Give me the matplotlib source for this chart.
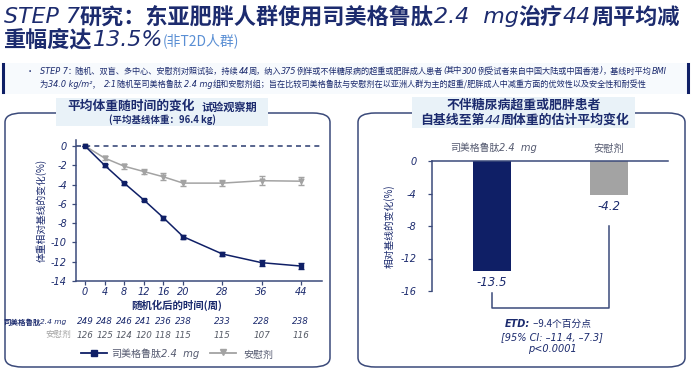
import matplotlib
matplotlib.use("Agg")
import matplotlib.pyplot as plt
import matplotlib.transforms as mtransforms
from matplotlib.patches import FancyBboxPatch, Rectangle
from matplotlib.lines import Line2D

plt.rcParams['font.family'] = ['Noto Sans CJK SC', 'DejaVu Sans']

NAVY = '#0f1f66'
TXT = '#1c2b6e'
GRAY = '#a3a3a3'
LIGHT = '#e9f2f8'

# left chart data
weeks = [0, 4, 8, 12, 16, 20, 28, 36, 44]
sema = [0, -2.0, -3.85, -5.6, -7.45, -9.4, -11.2, -12.1, -12.45]
sema_err = [0, 0.15, 0.15, 0.15, 0.2, 0.2, 0.25, 0.3, 0.3]
plac = [0, -1.25, -2.1, -2.65, -3.2, -3.85, -3.85, -3.6, -3.65]
plac_err = [0, 0.2, 0.25, 0.3, 0.35, 0.35, 0.35, 0.45, 0.4]
n_sema = [249, 248, 246, 241, 236, 238, 233, 228, 238]
n_plac = [126, 125, 124, 120, 118, 115, 115, 107, 116]
y_ticks_left = [0, -2, -4, -6, -8, -10, -12, -14]

# right chart data
groups = ['司美格鲁肽', '安慰剂']
change44 = [-13.5, -4.2]
y_ticks_right = [0, -4, -8, -12, -16]

W, H = 691, 373
fig = plt.figure(figsize=(W / 100, H / 100), dpi=100)


def fx(x):
    return x / W


def fy(y):
    return 1 - y / H


def ax_px(l, t, r, b):
    return fig.add_axes([fx(l), fy(b), (r - l) / W, (b - t) / H])


ITAL = dict(family=['DejaVu Sans', 'Noto Sans CJK SC'], style='italic')


def runs(x, y, parts, size, color, weight='bold'):
    r = fig.canvas.get_renderer()
    for s, kind in parts:
        if kind == 'i':
            t = fig.text(fx(x), fy(y), s, fontsize=size, color=color, va='center', **ITAL)
        else:
            t = fig.text(fx(x), fy(y), s, fontsize=size, color=color, va='center',
                         fontweight=weight)
        x += t.get_window_extent(r).width
    return x


# header
runs(4, 17, [('STEP 7', 'i'), ('研究：东亚肥胖人群使用司美格鲁肽', 'b'), ('2.4  mg', 'i'),
             ('治疗', 'b'), ('44', 'i'), ('周平均减', 'b')], 15.9, TXT)
runs(4, 40, [('重幅度达', 'b'), ('13.5%', 'i')], 15.9, TXT)
fig.text(fx(163), fy(41), '(非T2D人群)', fontsize=10, color='#5a8fd4', va='center')

fig.patches.append(Rectangle((fx(2), fy(94)), (687 - 2) / W, 31 / H, transform=fig.transFigure,
                             facecolor='#f7fafd', edgecolor='none', zorder=-3))
fig.add_artist(Line2D([fx(3), fx(3)], [fy(64), fy(92)], color=NAVY, lw=2.2))
fig.add_artist(Line2D([fx(688), fx(688)], [fy(64), fy(92)], color=NAVY, lw=2.2))
fig.text(fx(26), fy(71), '•', fontsize=6, color=TXT, va='center')
runs(40, 71, [('STEP 7', 'i'), ('：随机、双盲、多中心、安慰剂对照试验，持续', 'n'), ('44', 'i'),
              ('周，纳入', 'n'), ('375', 'i'), ('例伴或不伴糖尿病的超重或肥胖成人患者', 'n'),
              ('(', 'i'), ('其中', 'n'), ('300', 'i'),
              ('例受试者来自中国大陆或中国香港', 'n'), (')', 'i'), ('，基线时平均', 'n'),
              ('BMI', 'i')], 5.9, TXT, weight='normal')
runs(40, 84.5, [('为', 'n'), ('34.0 kg/m²', 'i'), ('，  ', 'n'), ('2:1', 'i'),
                ('随机至司美格鲁肽 ', 'n'), ('2.4 mg', 'i'),
                ('组和安慰剂组；旨在比较司美格鲁肽与安慰剂在以亚洲人群为主的超重/肥胖成人中减重方面的优效性以及安全性和耐受性', 'n')],
     5.9, TXT, weight='normal')

# panel frames
for (l, t, r, b) in [(5, 113, 330, 367), (358, 113, 685, 367)]:
    fig.patches.append(FancyBboxPatch((fx(l), fy(b)), (r - l) / W, (b - t) / H,
                                      boxstyle='round,pad=0,rounding_size=0.025',
                                      transform=fig.transFigure, facecolor='white',
                                      edgecolor='#3b4a7a', lw=1.1, zorder=-2))
fig.patches.append(Rectangle((fx(56), fy(126)), 212 / W, 28 / H, transform=fig.transFigure,
                             facecolor=LIGHT, edgecolor='none', zorder=-1))
fig.patches.append(Rectangle((fx(412), fy(128)), 223 / W, 31 / H, transform=fig.transFigure,
                             facecolor=LIGHT, edgecolor='none', zorder=-1))

fig.text(fx(131), fy(106), '平均体重随时间的变化', fontsize=9.2, fontweight='bold',
         color=TXT, ha='center', va='center')
fig.text(fx(229), fy(107), '试验观察期', fontsize=8, fontweight='bold',
         color=TXT, ha='center', va='center')
fig.text(fx(162), fy(119.5), '(平均基线体重：96.4 kg)', fontsize=6.8, fontweight='bold',
         color=TXT, ha='center', va='center')
fig.text(fx(524), fy(105), '不伴糖尿病超重或肥胖患者', fontsize=9.3, fontweight='bold',
         color=TXT, ha='center', va='center')
runs(420, 120, [('自基线至第', 'b'), ('44', 'i'), ('周体重的估计平均变化', 'b')], 9.3, TXT)

# left chart
ax = ax_px(76, 140.2, 322, 281)
ax.set_xlim(-1.83, 48.3)
ax.set_ylim(-14, 0.6)
ax.axhline(0, color='#3b4a7a', lw=1.2, ls=(0, (3, 2.5)), zorder=1)
ax.errorbar(weeks, plac, yerr=plac_err, color=GRAY, marker='v', ms=3.5, lw=1.1,
            capsize=2.5, elinewidth=0.9, zorder=2)
ax.errorbar(weeks, sema, yerr=sema_err, color=NAVY, marker='s', ms=3.5, lw=1.1,
            capsize=2.5, elinewidth=0.9, zorder=3)
ax.set_xticks(weeks)
ax.set_yticks(y_ticks_left)
ax.set_xticklabels([str(w) for w in weeks], fontsize=7, color=TXT, **ITAL)
ax.set_yticklabels([str(v) for v in y_ticks_left], fontsize=7, color=TXT, **ITAL)
ax.tick_params(colors='#3b4a7a', length=3, width=0.9, labelcolor=TXT)
ax.tick_params(axis='x', pad=1.5)
for s in ['top', 'right']:
    ax.spines[s].set_visible(False)
for s in ['left', 'bottom']:
    ax.spines[s].set_color('#3b4a7a')
    ax.spines[s].set_linewidth(1.1)
ax.set_ylabel('体重相对基线的变化(%)', fontsize=7, color=TXT, labelpad=3)
ax.patch.set_alpha(0)
fig.text(fx(177), fy(305), '随机化后的时间(周)', fontsize=7.5, fontweight='bold',
         color=TXT, ha='center', va='center')

tr = mtransforms.blended_transform_factory(ax.transData, fig.transFigure)
runs(3, 322, [('司美格鲁肽', 'b'), ('2.4 mg', 'i')], 5.4, TXT)
fig.text(fx(71), fy(335), '安慰剂', fontsize=6.2, color=GRAY, ha='right', va='center')
for w, a, b in zip(weeks, n_sema, n_plac):
    ax.text(w, fy(322), str(a), transform=tr, fontsize=6.3, color=TXT, ha='center',
            va='center', **ITAL)
    ax.text(w, fy(335), str(b), transform=tr, fontsize=6.3, color='#555a66', ha='center',
            va='center', **ITAL)

fig.add_artist(Line2D([fx(81), fx(107)], [fy(353), fy(353)], color=NAVY, lw=1.3))
fig.add_artist(Line2D([fx(94)], [fy(353)], color=NAVY, marker='s', ms=5, lw=0))
runs(111, 354, [('司美格鲁肽', 'n'), ('2.4  mg', 'i')], 7.2, '#555a70', weight='normal')
fig.add_artist(Line2D([fx(210), fx(236)], [fy(353), fy(353)], color=GRAY, lw=1.3))
fig.add_artist(Line2D([fx(223)], [fy(352)], color=GRAY, marker='v', ms=5, lw=0))
fig.text(fx(243), fy(355), '安慰剂', fontsize=7.2, color='#555a70', va='center')

# right chart
bx = ax_px(432, 161, 668, 291)
bx.set_xlim(-0.513, 1.504)
bx.set_ylim(-16, 0)
bx.bar([0, 1], change44, width=0.325, color=[NAVY, GRAY], zorder=2)
bx.set_yticks(y_ticks_right)
bx.set_yticklabels([str(v) for v in y_ticks_right], fontsize=7, color=TXT, **ITAL)
bx.set_xticks([])
bx.tick_params(colors='#3b4a7a', length=3, width=0.9, labelcolor=TXT, pad=8)
for s in ['right', 'bottom']:
    bx.spines[s].set_visible(False)
for s in ['left', 'top']:
    bx.spines[s].set_color('#3b4a7a')
    bx.spines[s].set_linewidth(1.1)
bx.set_ylabel('相对基线的变化(%)', fontsize=7, color=TXT, labelpad=4)
bx.patch.set_alpha(0)
runs(450, 148, [(groups[0], 'n'), ('2.4  mg', 'i')], 7.1, '#555a70', weight='normal')
bx.text(1, 0.9, groups[1], fontsize=7.4, color='#555a70', ha='center', va='bottom',
        clip_on=False)
for i, v in enumerate(change44):
    bx.text(i, v - 0.6, str(v), fontsize=8.5, color=TXT, ha='center', va='top',
            clip_on=False, **ITAL)

bx.plot([0, 0, 1, 1], [-16.3, -18.1, -18.1, -8.0], color='#3b4a7a', lw=1.1, clip_on=False)
fig.text(fx(530), fy(324), 'ETD:', fontsize=7, color=TXT, ha='right', va='center',
         fontweight='bold', **ITAL)
fig.text(fx(531), fy(324), ' –9.4个百分点', fontsize=7, color=TXT, ha='left', va='center')
fig.text(fx(552), fy(337), '[95% CI: –11.4, –7.3]', fontsize=7, color=TXT, ha='center',
         va='center', **ITAL)
fig.text(fx(552), fy(348.5), 'p<0.0001', fontsize=7, color=TXT, ha='center', va='center',
         **ITAL)

fig.savefig('out.png', dpi=100)
